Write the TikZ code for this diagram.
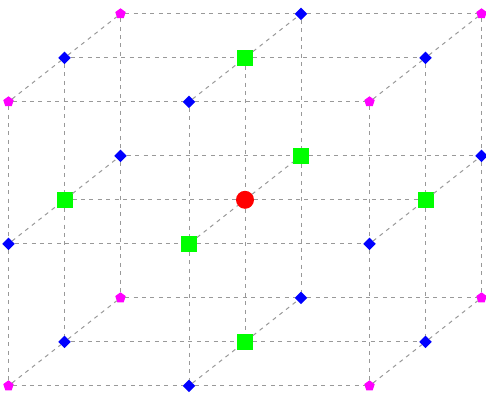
\documentclass[tikz,border=0pt]{standalone}
\usetikzlibrary{shapes.geometric}
\definecolor{pk}{RGB}{255,0,255}
\definecolor{bl}{RGB}{0,0,255}
\definecolor{gr}{RGB}{0,255,0}
\definecolor{rd}{RGB}{255,0,0}
\tikzset{
  base/.style={fill,draw=none,inner sep=0pt,outer sep=0pt},
  kind0/.style={base,pk,regular polygon,regular polygon sides=5,minimum size=11pt},
  kind1/.style={base,bl,diamond,minimum size=12.5pt},
  kind2/.style={base,gr,rectangle,minimum size=16pt},
  kind3/.style={base,rd,circle,minimum size=18pt},
  link/.style={draw=black!40,line width=1pt,dash pattern=on 4pt off 4.4pt}
}
\begin{document}
\begin{tikzpicture}[x=1pt,y=-1pt]
\useasboundingbox (0,0) rectangle (486,393);
\foreach \i in {0,1,2}
 \foreach \j in {0,1,2}
  \foreach \k in {0,1,2}{
   \pgfmathtruncatemacro\m{(\i==1)+(\j==1)+(\k==1)}
   \pgfmathsetmacro\px{8.5+180.5*\i+56*\k}
   \pgfmathsetmacro\py{101.8+142*\j-44*\k}
   \node[kind\m] (n\i\j\k) at (\px,\py) {};
  }
\foreach \a in {0,1,2}
 \foreach \b in {0,1,2}{
  \draw[link] (n0\a\b) -- (n1\a\b);
  \draw[link] (n1\a\b) -- (n2\a\b);
  \draw[link] (n\a0\b) -- (n\a1\b);
  \draw[link] (n\a1\b) -- (n\a2\b);
  \draw[link] (n\a\b0) -- (n\a\b1);
  \draw[link] (n\a\b1) -- (n\a\b2);
 }
\end{tikzpicture}
\end{document}
